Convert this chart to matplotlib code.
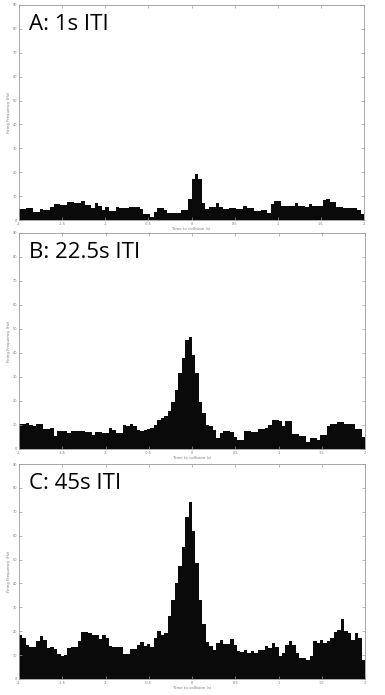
import matplotlib
matplotlib.use("Agg")
import matplotlib.pyplot as plt
import numpy as np

# Peri-event histograms, 100 bins of 0.04 s from -2 to 2 s
bin_edges = np.linspace(-2.0, 2.0, 101)

rate_1s = [
    4.5, 4.5, 4.9, 4.9, 3.5, 3.5, 4.5, 4.2, 4.2, 5.6,
    6.7, 6.7, 6.3, 6.3, 7.7, 7.7, 7.0, 7.0, 7.8, 6.3,
    6.3, 4.9, 7.3, 5.9, 4.2, 5.3, 3.6, 3.6, 5.3, 4.9,
    4.9, 4.9, 5.3, 5.3, 5.3, 4.7, 2.4, 2.4, 1.4, 3.5,
    4.9, 4.9, 4.2, 2.8, 2.8, 2.8, 2.8, 4.2, 4.2, 9.0,
    17.0, 19.2, 17.0, 7.0, 4.5, 5.3, 5.3, 7.3, 5.6, 4.5,
    4.5, 4.9, 4.9, 4.5, 4.5, 5.9, 4.9, 4.9, 3.9, 3.9,
    4.2, 4.2, 3.0, 6.7, 7.8, 7.8, 6.0, 6.0, 5.9, 5.9,
    7.0, 5.9, 5.9, 5.3, 6.7, 5.9, 5.9, 5.9, 8.4, 8.9,
    7.7, 7.7, 5.6, 5.6, 4.9, 4.9, 4.9, 4.9, 4.2, 2.5,
]

rate_22s = [
    10.5, 10.5, 10.8, 10.1, 9.4, 10.3, 10.3, 8.3, 8.3, 8.6,
    5.6, 7.4, 7.4, 7.4, 6.7, 7.5, 7.5, 7.5, 7.5, 7.2,
    6.9, 5.7, 7.2, 7.2, 6.7, 6.7, 8.6, 8.1, 6.7, 6.7,
    10.1, 9.7, 10.3, 9.4, 8.1, 7.4, 7.8, 8.3, 8.6, 10.1,
    12.2, 12.9, 13.6, 15.7, 19.4, 24.4, 31.7, 37.9, 45.6, 46.7,
    39.3, 31.7, 19.4, 15.0, 10.1, 9.4, 8.1, 4.6, 6.7, 7.6,
    7.6, 6.9, 5.0, 3.9, 3.9, 7.4, 7.4, 6.9, 6.9, 8.3,
    8.3, 8.9, 10.1, 12.2, 12.2, 11.5, 9.4, 11.5, 11.5, 6.4,
    6.4, 5.3, 5.3, 2.9, 4.6, 4.6, 3.9, 6.0, 6.0, 9.4,
    10.5, 10.5, 11.1, 11.1, 10.4, 10.4, 10.4, 8.3, 8.3, 5.0,
]

rate_45s = [
    18.5, 17.1, 14.3, 13.6, 13.4, 15.7, 18.1, 16.4, 13.0, 13.6,
    12.5, 10.6, 9.7, 10.2, 13.0, 13.6, 13.4, 15.7, 19.5, 19.5,
    19.2, 18.5, 18.5, 16.7, 18.5, 17.1, 13.9, 13.4, 13.6, 13.6,
    10.4, 10.4, 12.5, 12.5, 14.3, 15.3, 13.9, 14.6, 13.6, 17.1,
    19.9, 18.5, 19.2, 26.2, 32.9, 40.1, 47.4, 55.2, 67.7, 74.2,
    62.1, 48.7, 32.9, 23.0, 15.3, 13.9, 12.3, 15.0, 16.4, 14.6,
    14.6, 16.7, 14.3, 11.6, 11.1, 12.0, 10.9, 11.8, 10.9, 12.3,
    12.3, 13.9, 13.0, 15.0, 13.4, 9.5, 10.9, 14.3, 15.7, 14.3,
    10.9, 8.8, 8.8, 8.1, 9.5, 15.7, 15.0, 16.4, 15.0, 15.7,
    17.1, 19.5, 20.6, 25.1, 19.9, 19.2, 16.4, 19.2, 17.1, 8.0,
]

panel_labels = ["A: 1s ITI", "B: 22.5s ITI", "C: 45s ITI"]
x_ticks = [-2, -1.5, -1, -0.5, 0, 0.5, 1, 1.5, 2]
x_tick_labels = ["-2", "-1.5", "-1", "-0.5", "0", "0.5", "1", "1.5", "2"]
y_ticks = list(range(0, 100, 10))

W, H = 385, 695
fig = plt.figure(figsize=(W / 100, H / 100), dpi=100)

# axes boxes in pixels: left, top, right, bottom
boxes = [(19, 5, 364, 220), (19, 233, 365, 449), (19, 464, 365, 679)]
series = [rate_1s, rate_22s, rate_45s]

frame_col = "#9a9a9a"
for box, vals, label in zip(boxes, series, panel_labels):
    l, t, r, b = box
    ax = fig.add_axes([l / W, 1 - b / H, (r - l) / W, (b - t) / H])
    ax.stairs(vals, bin_edges, fill=True, color="#0a0a0a", baseline=0)
    ax.set_xlim(-2, 2)
    ax.set_ylim(0, 90)
    ax.set_xticks(x_ticks)
    ax.set_xticklabels(x_tick_labels)
    ax.set_yticks(y_ticks)
    ax.tick_params(direction="in", length=2.5, width=0.5, colors=frame_col,
                   labelsize=2.5, labelcolor="#777777", pad=1.5,
                   top=True, right=True)
    for s in ax.spines.values():
        s.set_color(frame_col)
        s.set_linewidth(0.6)
    ax.set_xlabel("Time to collision (s)", fontsize=2.8, color="#777777", labelpad=0.5)
    ax.set_ylabel("Firing Frequency (Hz)", fontsize=2.8, color="#777777", labelpad=1)
    ax.text(0.029, 0.96, label, transform=ax.transAxes, ha="left", va="top",
            fontsize=16, family="Open Sans", color="black")

fig.savefig("out.png", dpi=100)
